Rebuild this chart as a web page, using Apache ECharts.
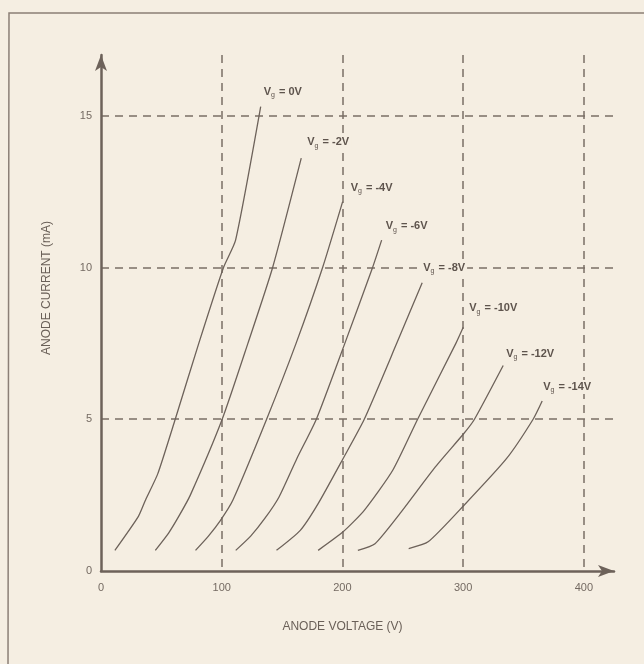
<!DOCTYPE html>
<html>
<head>
<meta charset="utf-8">
<script src="https://cdn.jsdelivr.net/npm/echarts@6/dist/echarts.min.js"></script>
<style>
  html, body { margin: 0; padding: 0; background: #f5eee2; }
  #chart { width: 644px; height: 664px; }
</style>
</head>
<body>
<div id="chart"></div>
<script>
// grid voltage of each curve
const gridVoltages = ['0V', '-2V', '-4V', '-6V', '-8V', '-10V', '-12V', '-14V']
// anode voltage (V), anode current (mA)
const vg0 = [[11.5, 0.68], [31, 1.8], [37, 2.35], [47, 3.2], [61.5, 5], [81, 7.5], [101.5, 10], [111.5, 10.9], [132.3, 15.3]]
const vg2 = [[45, 0.68], [56, 1.25], [65, 1.84], [74, 2.5], [100.4, 5], [121.7, 7.5], [142.2, 10], [165.9, 13.6]]
const vg4 = [[78.3, 0.68], [89, 1.15], [99, 1.67], [109.2, 2.33], [137.2, 5], [161.6, 7.5], [183.6, 10], [200.2, 12.17]]
const vg6 = [[111.6, 0.68], [124, 1.15], [135.7, 1.73], [147.5, 2.44], [162.2, 3.7], [178.4, 5], [202, 7.5], [225, 10], [232.5, 10.9]]
const vg8 = [[145.4, 0.68], [165.1, 1.34], [179.9, 2.22], [200.5, 3.7], [218.1, 5], [245, 7.5], [266.1, 9.5]]
const vg10 = [[179.9, 0.68], [200.5, 1.29], [218.1, 2.0], [241.7, 3.32], [262.3, 5], [294, 7.5], [300.1, 8.03]]
const vg12 = [[212.8, 0.68], [227, 0.9], [247.6, 1.89], [277, 3.43], [300.6, 4.53], [309.4, 5], [333.2, 6.77]]
const vg14 = [[254.9, 0.74], [271, 0.96], [300.6, 2.16], [335.9, 3.7], [358, 5], [365.5, 5.6]]
const curves = [vg0, vg2, vg4, vg6, vg8, vg10, vg12, vg14]
// axis ticks
const xTicks = [0, 100, 200, 300, 400]
const yTicks = [0, 5, 10, 15]

const bg = '#f5eee2'
const ink = '#6d625a'
const textInk = '#746a62'
// label nudges per curve, px
const labelOffsets = [[-4, -15], [-1, -16], [1, -14], [-3, -14], [-6, -15], [-1, -19], [-4, -12], [-6, -14]]

const chart = echarts.init(document.getElementById('chart'))

const series = curves.map((pts, i) => ({
  type: 'line',
  data: pts,
  smooth: 0.2,
  showSymbol: false,
  silent: true,
  lineStyle: { color: ink, width: 1.3 },
  markPoint: {
    symbol: 'circle',
    symbolSize: 0,
    silent: true,
    data: [{ coord: pts[pts.length - 1] }],
    label: {
      show: true,
      position: 'right',
      distance: 5,
      offset: labelOffsets[i],
      backgroundColor: bg,
      padding: [0, 2],
      formatter: '{a|V}{b|g}{a| = ' + gridVoltages[i] + '}',
      rich: {
        a: { fontFamily: 'Liberation Sans', fontSize: 11, fontWeight: 'bold', color: '#5e544d', lineHeight: 14 },
        b: { fontFamily: 'Liberation Sans', fontSize: 7, color: '#5e544d', lineHeight: 14, padding: [7, 1, 0, 0] }
      }
    }
  }
}))

const axisArrow = {
  lineStyle: { color: ink, width: 2.5 },
  symbol: ['none', 'arrow'],
  symbolSize: [9, 16],
  symbolOffset: [0, 0]
}
const dashed = {
  show: true,
  showMinLine: false,
  showMaxLine: false,
  lineStyle: { color: '#7a6f66', width: 1.5, type: [8, 6] }
}

const option = {
  backgroundColor: bg,
  animation: false,
  grid: { left: 101, right: 30, top: 55, bottom: 93, containLabel: false, outerBoundsMode: 'none' },
  graphic: [{
    type: 'polyline',
    shape: { points: [[8, 664], [9, 13], [644, 13]] },
    style: { stroke: '#8b7f76', lineWidth: 1.5, fill: null }
  }],
  xAxis: {
    type: 'value',
    min: 0,
    max: 425,
    interval: 100,
    name: 'ANODE VOLTAGE (V)',
    nameLocation: 'middle',
    nameGap: 50,
    nameTextStyle: { fontFamily: 'Liberation Sans', fontSize: 12, color: '#6a6058', padding: [0, 30, 0, 0] },
    axisLine: axisArrow,
    axisTick: { show: false },
    axisLabel: {
      margin: 11,
      fontFamily: 'Liberation Sans',
      fontSize: 11,
      color: textInk,
      showMaxLabel: false,
      formatter: v => (xTicks.includes(v) ? String(v) : '')
    },
    splitLine: dashed
  },
  yAxis: {
    type: 'value',
    min: 0,
    max: 17,
    interval: 5,
    name: 'ANODE CURRENT (mA)',
    nameLocation: 'middle',
    nameGap: 48,
    nameRotate: 90,
    nameTextStyle: { fontFamily: 'Liberation Sans', fontSize: 12, color: '#6a6058', padding: [0, 0, 0, 50] },
    axisLine: axisArrow,
    axisTick: { show: false },
    axisLabel: {
      margin: 9,
      fontFamily: 'Liberation Sans',
      fontSize: 11,
      color: textInk,
      showMaxLabel: false,
      formatter: v => (yTicks.includes(v) ? String(v) : '')
    },
    splitLine: dashed
  },
  series: series
}

chart.setOption(option)
</script>
</body>
</html>
